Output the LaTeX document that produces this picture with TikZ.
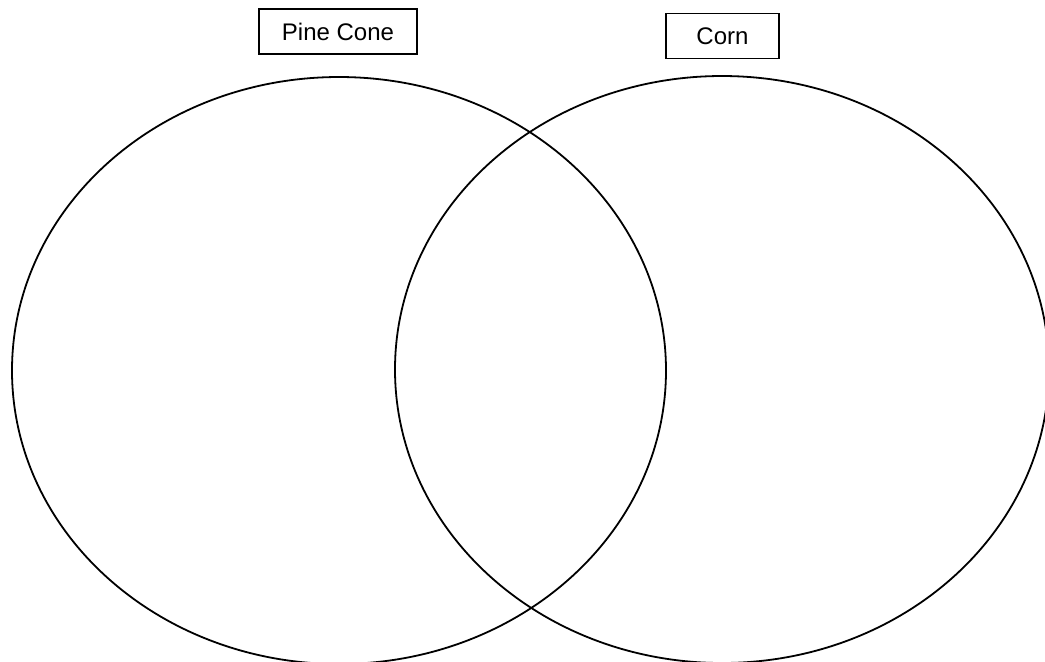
\documentclass[tikz,border=0pt]{standalone}
\usepackage{fontspec}
\setmainfont{Liberation Sans}
\usetikzlibrary{positioning}

\begin{document}
\begin{tikzpicture}[x=0.5pt, y=-0.5pt, every node/.style={draw, line width=0.7pt, font=\fontsize{12}{14}\selectfont, minimum height=22.5pt, inner sep=0pt},
  setline/.style={line width=0.9pt}]
\clip (0,0) rectangle (1045,661);
\draw[setline] (339,370.5) ellipse [x radius=327, y radius=293.5];
\draw[setline] (722,369.5) ellipse [x radius=327, y radius=293.5];
\node[minimum width=79pt] (pinecone) at (338,31.5) {Pine Cone};
\node[minimum width=56.5pt] (corn) at (722.5,36) {Corn};
\end{tikzpicture}
\end{document}
